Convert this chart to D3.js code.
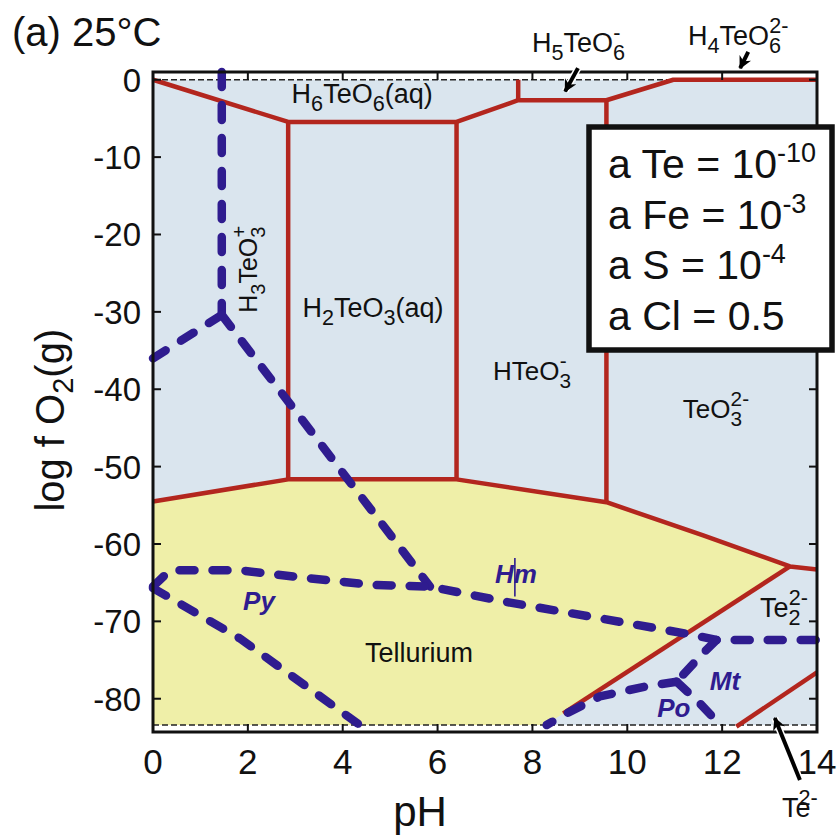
<!DOCTYPE html>
<html>
<head>
<meta charset="utf-8">
<script src="https://cdn.jsdelivr.net/npm/d3@7"></script>
<style>
  body { margin: 0; background: #fff; }
  svg { display: block; }
  text { font-family: "Liberation Sans", Arial, Helvetica, sans-serif; }
</style>
</head>
<body>
<div id="chart"></div>
<script>
// axis ticks
var pHTicks = [0, 2, 4, 6, 8, 10, 12, 14];
var logTicks = [0, -10, -20, -30, -40, -50, -60, -70, -80];

// water stability limits (log fO2)
var waterLimits = [0, -83.4];

// Tellurium (native) stability field
var telluriumField = [[0,-54.5],[2.85,-51.65],[6.4,-51.65],[9.56,-54.6],[11.6,-58.9],[13.43,-62.9],[8.65,-81.9],[8.27,-83.4],[0,-83.4]];

// Te species boundaries (red)
var teBoundaries = [
  [[0,0],[2.85,-5.45],[6.4,-5.45],[7.7,-2.65],[9.56,-2.65],[10.97,0],[14,0]],
  [[7.7,-2.65],[7.7,0]],
  [[2.85,-5.45],[2.85,-51.65]],
  [[6.4,-5.45],[6.4,-51.65]],
  [[9.56,-2.65],[9.56,-54.6]],
  [[0,-54.5],[2.85,-51.65],[6.4,-51.65],[9.56,-54.6],[11.6,-58.9],[13.43,-62.9],[14,-63.3]],
  [[13.43,-62.9],[8.65,-81.9]],
  [[12.3,-83.6],[14,-76.6]]
];

// Fe-S-O mineral boundaries (blue dashed)
var feBoundaries = [
  [[1.45,1.0],[1.45,-30.4]],
  [[0,-36],[1.45,-30.4]],
  [[1.45,-30.4],[5.84,-65.5]],
  [[0,-65.5],[0.36,-63.4],[1.83,-63.4],[3.24,-64.4],[4.65,-65.3],[5.84,-65.5],[7.46,-67.5],[9.42,-69.6],[11.25,-71.6],[11.88,-72.4],[14,-72.4]],
  [[0,-65.7],[1.83,-72.2],[4.36,-83.4]],
  [[11.88,-72.4],[11.6,-74.1],[11.04,-77.8]],
  [[11.04,-77.8],[10.4,-78.4],[9.42,-79.7],[8.72,-81.9],[8.3,-83.4]],
  [[11.04,-77.8],[11.53,-80.6],[11.99,-83.6]]
];

// activities in the legend box
var legendLines = [["a Te = 10", "-10"], ["a Fe = 10", "-3"], ["a S = 10", "-4"], ["a Cl = 0.5", ""]];

var width = 838, height = 836;
var x = d3.scaleLinear().domain([0, 14]).range([153, 817]);
var y = d3.scaleLinear().domain([-84.3, 1.0]).range([732, 72]);

var RED = "#b3261e", BLUE = "#2f1c8f", SKY = "#dae5ee", SAND = "#efefa8";

var svg = d3.select("#chart").append("svg")
  .attr("width", width).attr("height", height);

svg.append("defs").append("marker")
  .attr("id", "head").attr("viewBox", "0 0 10 10")
  .attr("refX", 9).attr("refY", 5)
  .attr("markerWidth", 3.2).attr("markerHeight", 3.2)
  .attr("markerUnits", "strokeWidth").attr("orient", "auto")
  .append("path").attr("d", "M0,0 L10,5 L0,10 L3,5 z").attr("fill", "#000");

var line = d3.line().x(function(d) { return x(d[0]); }).y(function(d) { return y(d[1]); });

// background fields
svg.append("rect")
  .attr("x", x(0)).attr("y", y(waterLimits[0]))
  .attr("width", x(14) - x(0)).attr("height", y(waterLimits[1]) - y(waterLimits[0]))
  .attr("fill", SKY);
svg.append("path").attr("d", line(telluriumField) + "Z").attr("fill", SAND);

// water limits
svg.selectAll("line.water").data(waterLimits).enter().append("line")
  .attr("x1", x(0)).attr("x2", x(14))
  .attr("y1", function(d) { return y(d); }).attr("y2", function(d) { return y(d); })
  .attr("stroke", "#222").attr("stroke-width", 1.6).attr("stroke-dasharray", "6,3");

// Te boundaries
svg.selectAll("path.te").data(teBoundaries).enter().append("path")
  .attr("d", line).attr("fill", "none").attr("stroke", RED)
  .attr("stroke-width", 4.5).attr("stroke-linejoin", "round");

// Fe-S-O boundaries
svg.selectAll("path.fe").data(feBoundaries).enter().append("path")
  .attr("d", line).attr("fill", "none").attr("stroke", BLUE)
  .attr("stroke-width", 8.5).attr("stroke-linecap", "round").attr("stroke-linejoin", "round")
  .attr("stroke-dasharray", "15,18");

// small tick through Hm
svg.append("line")
  .attr("x1", x(7.63)).attr("x2", x(7.63)).attr("y1", y(-61.8)).attr("y2", y(-66.8))
  .attr("stroke", BLUE).attr("stroke-width", 1.6);

// frame + ticks
var frame = svg.append("g");
frame.append("rect")
  .attr("x", x(0)).attr("y", y(1.0)).attr("width", x(14) - x(0)).attr("height", y(-84.3) - y(1.0))
  .attr("fill", "none").attr("stroke", "#111").attr("stroke-width", 3);

var tl = 8;
frame.selectAll("line.xb").data(pHTicks).enter().append("line")
  .attr("x1", function(d) { return x(d); }).attr("x2", function(d) { return x(d); })
  .attr("y1", y(-84.3)).attr("y2", y(-84.3) - tl).attr("stroke", "#111").attr("stroke-width", 2);
frame.selectAll("line.xt").data(pHTicks).enter().append("line")
  .attr("x1", function(d) { return x(d); }).attr("x2", function(d) { return x(d); })
  .attr("y1", y(1.0)).attr("y2", y(1.0) + tl).attr("stroke", "#111").attr("stroke-width", 2);
frame.selectAll("line.yl").data(logTicks).enter().append("line")
  .attr("y1", function(d) { return y(d); }).attr("y2", function(d) { return y(d); })
  .attr("x1", x(0)).attr("x2", x(0) + tl).attr("stroke", "#111").attr("stroke-width", 2);
frame.selectAll("line.yr").data(logTicks).enter().append("line")
  .attr("y1", function(d) { return y(d); }).attr("y2", function(d) { return y(d); })
  .attr("x1", x(14)).attr("x2", x(14) - tl).attr("stroke", "#111").attr("stroke-width", 2);

// tick labels
svg.selectAll("text.xl").data(pHTicks).enter().append("text")
  .attr("x", function(d) { return x(d); }).attr("y", 774)
  .attr("text-anchor", "middle").attr("font-size", 35).attr("fill", "#111")
  .text(function(d) { return d; });
svg.selectAll("text.yl").data(logTicks).enter().append("text")
  .attr("x", 141).attr("y", function(d) { return y(d) + 12; })
  .attr("text-anchor", "end").attr("font-size", 33).attr("fill", "#111")
  .text(function(d) { return d; });

// axis titles
svg.append("text").attr("x", 420).attr("y", 826)
  .attr("text-anchor", "middle").attr("font-size", 42).attr("fill", "#111").text("pH");

var yt = svg.append("text").attr("transform", "translate(64," + y(-44) + ") rotate(-90)")
  .attr("text-anchor", "middle").attr("font-size", 40).attr("fill", "#111");
yt.append("tspan").text("log f O");
yt.append("tspan").text("2").attr("font-size", 29).attr("dy", 9);
yt.append("tspan").text("(g)").attr("dy", -9);

svg.append("text").attr("x", 12).attr("y", 46).attr("font-size", 40).attr("fill", "#111").text("(a) 25\u00B0C");

// chemical labels: parts of [text, shift]; 0 normal, 1 sub, -1 super, 2 super stacked over the sub before
function chem(px, py, parts, size, opts) {
  opts = opts || {};
  var t = svg.append("text").attr("font-size", size).attr("fill", opts.fill || "#111");
  if (opts.rotate) {
    t.attr("transform", "translate(" + px + "," + py + ") rotate(" + opts.rotate + ")");
  } else {
    t.attr("x", px).attr("y", py);
  }
  t.attr("text-anchor", opts.anchor || "start");
  if (opts.style) t.attr("font-style", opts.style).attr("font-weight", "bold");
  parts.forEach(function(p) {
    var ts = t.append("tspan").text(p[0]);
    if (p[1] === 1) ts.attr("font-size", size * 0.8).attr("baseline-shift", -size * 0.3);
    if (p[1] === -1) ts.attr("font-size", size * 0.8).attr("baseline-shift", size * 0.45);
    if (p[1] === 2) ts.attr("font-size", size * 0.8).attr("baseline-shift", size * 0.45).attr("dx", -size * 0.44);
  });
  return t;
}

chem(x(4.41), y(-3.0), [["H",0],["6",1],["TeO",0],["6",1],["(aq)",0]], 27, {anchor: "middle"});
chem(x(4.64), y(-30.7), [["H",0],["2",1],["TeO",0],["3",1],["(aq)",0]], 27, {anchor: "middle"});
chem(x(2.2), y(-24.5), [["H",0],["3",1],["TeO",0],["3",1],["+",2]], 25, {anchor: "middle", rotate: -90});
chem(x(7.17), y(-38.8), [["HTeO",0],["3",1],["-",2]], 26);
chem(x(11.17), y(-43.7), [["TeO",0],["3",1],["2-",2]], 26);
chem(x(7.99), y(3.6), [["H",0],["5",1],["TeO",0],["6",1],["-",2]], 27);
chem(x(11.28), y(4.5), [["H",0],["4",1],["TeO",0],["6",1],["2-",2]], 27);
chem(x(12.8), y(-69.4), [["Te",0],["2",1],["2-",2]], 27);
chem(x(13.26), y(-95.3), [["Te",0],["2-",2]], 27);
chem(x(4.47), y(-75.3), [["Tellurium",0]], 27);
chem(x(1.9), y(-68.5), [["Py",0]], 26, {fill: BLUE, style: "italic"});
chem(x(7.21), y(-65.1), [["Hm",0]], 26, {fill: BLUE, style: "italic"});
chem(x(11.74), y(-78.9), [["Mt",0]], 26, {fill: BLUE, style: "italic"});
chem(x(10.63), y(-82.4), [["Po",0]], 26, {fill: BLUE, style: "italic"});

// pointer arrows (tail -> tip, in pH / log fO2)
var arrows = [
  [[8.96, 1.5], [8.69, -1.5]],
  [[12.55, 3.6], [12.38, 1.5]],
  [[13.64, -90.5], [13.11, -82.5]]
];
svg.selectAll("path.halo").data(arrows).enter().append("path")
  .attr("d", line).attr("stroke", "#fff").attr("stroke-width", 7).attr("fill", "none");
svg.selectAll("path.arrow").data(arrows).enter().append("path")
  .attr("d", line).attr("stroke", "#000").attr("stroke-width", 4).attr("fill", "none")
  .attr("marker-end", "url(#head)");

// activity box
var box = svg.append("g");
box.append("rect").attr("x", 589).attr("y", 127).attr("width", 243).attr("height", 223)
  .attr("fill", "#fff").attr("stroke", "#111").attr("stroke-width", 5.5);
legendLines.forEach(function(l, i) {
  var t = box.append("text").attr("x", 608).attr("y", 178 + i * 50.5)
    .attr("font-size", 41).attr("fill", "#111");
  t.append("tspan").text(l[0]);
  if (l[1]) t.append("tspan").text(l[1]).attr("font-size", 27).attr("baseline-shift", 16);
});
</script>
</body>
</html>
